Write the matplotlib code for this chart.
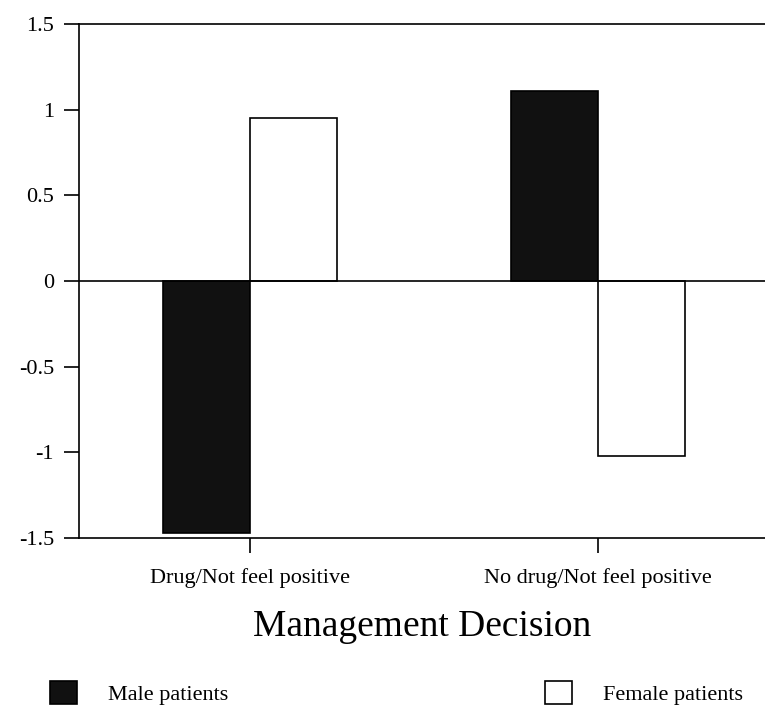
import matplotlib
matplotlib.use("Agg")
import matplotlib.pyplot as plt
import numpy as np

categories = ["Drug/Not feel positive", "No drug/Not feel positive"]
male = [-1.47, 1.11]
female = [0.95, -1.02]
yticks = [-1.5, -1, -0.5, 0, 0.5, 1, 1.5]
ytick_labels = ["-1.5", "-1", "-0.5", "0", "0.5", "1", "1.5"]

plt.rcParams['font.family'] = ['Liberation Serif', 'DejaVu Serif']
plt.rcParams['axes.unicode_minus'] = False

def main():
    fig = plt.figure(figsize=(7.65, 7.05), dpi=100)
    ax = fig.add_axes([79/765, 1 - 538/705, 1 - 79/765, (538 - 24)/705])

    x = np.arange(len(categories))
    w = 0.25
    bm = ax.bar(x - w/2, male, w, color='#111111', edgecolor='black', linewidth=1.2, label='Male patients')
    bf = ax.bar(x + w/2, female, w, color='white', edgecolor='black', linewidth=1.2, label='Female patients')
    ax.axhline(0, color='black', linewidth=1.2, zorder=3)

    ax.set_xlim(-0.49, 1.48)
    ax.set_ylim(-1.5, 1.5)
    ax.set_yticks(yticks)
    ax.set_yticklabels(ytick_labels)
    ax.set_xticks(x)
    ax.set_xticklabels(categories)
    ax.tick_params(axis='y', direction='out', length=11, width=1.2, labelsize=16, pad=7)
    ax.tick_params(axis='x', direction='out', length=11, width=1.2, labelsize=16, pad=11)
    ax.set_xlabel("Management Decision", fontsize=27, labelpad=15)

    ax.spines['right'].set_visible(False)
    for s in ['left', 'top', 'bottom']:
        ax.spines[s].set_linewidth(1.2)

    leg_kw = dict(loc='center left', frameon=False, fontsize=16, handlelength=1.2,
                  handleheight=1.2, handletextpad=1.4, borderpad=0, borderaxespad=0)
    fig.legend(handles=[bm], bbox_to_anchor=(50/765, 0.017), **leg_kw)
    fig.legend(handles=[bf], bbox_to_anchor=(545/765, 0.017), **leg_kw)

    fig.savefig("out.png", dpi=100)

if __name__ == "__main__":
    main()
